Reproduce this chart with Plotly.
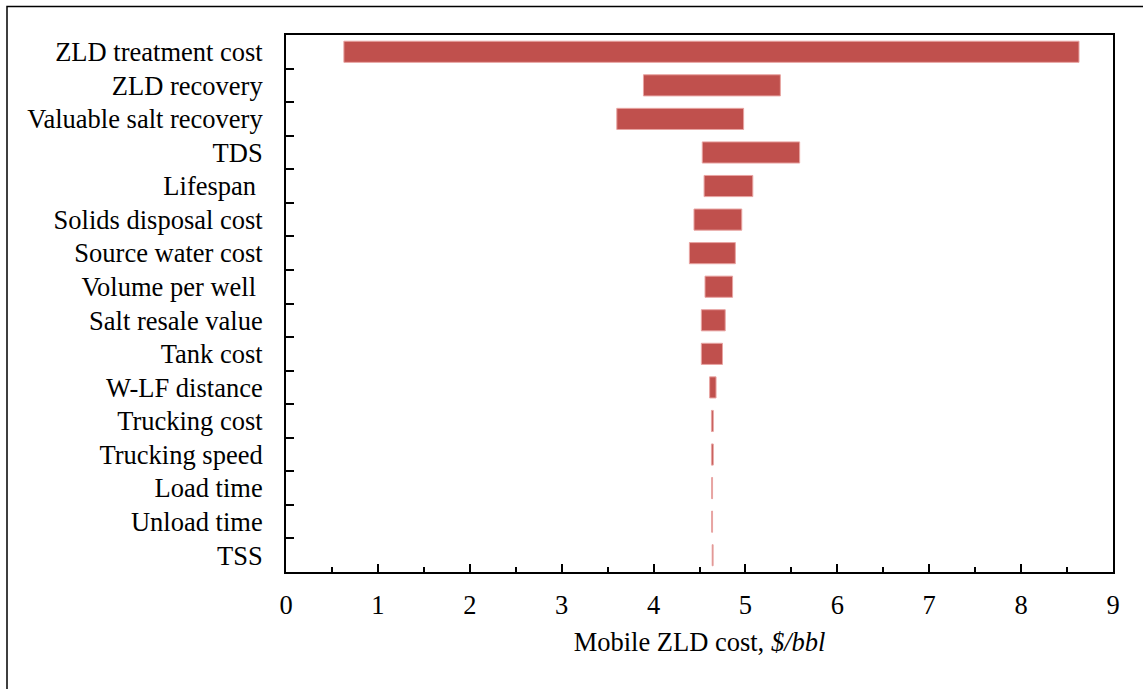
import plotly.graph_objects as go

categories = ["ZLD treatment cost", "ZLD recovery", "Valuable salt recovery", "TDS",
              "Lifespan ", "Solids disposal cost", "Source water cost", "Volume per well ",
              "Salt resale value", "Tank cost", "W-LF distance", "Trucking cost",
              "Trucking speed", "Load time", "Unload time", "TSS"]
low_values = [0.63, 3.89, 3.60, 4.53, 4.55, 4.44, 4.39, 4.56, 4.52, 4.52, 4.61, 4.63,
              4.63, 4.632, 4.632, 4.638]
high_values = [8.63, 5.38, 4.98, 5.59, 5.08, 4.96, 4.89, 4.86, 4.78, 4.75, 4.68, 4.65,
               4.65, 4.642, 4.642, 4.648]
x_ticks = list(range(0, 10))

FONT = "Liberation Serif"
FS = 26.5

fig = go.Figure()
fig.add_trace(go.Bar(
    y=categories,
    x=[h - l for l, h in zip(low_values, high_values)],
    base=low_values,
    orientation="h",
    width=0.63,
    marker=dict(color="#C0504D", line=dict(color="#E8A4A2", width=1)),
    showlegend=False,
))

fig.update_layout(
    width=1143, height=689,
    margin=dict(l=286, r=30, t=35, b=117),
    paper_bgcolor="white", plot_bgcolor="white",
    font=dict(family=FONT, size=FS, color="black"),
)
fig.update_xaxes(
    range=[0, 9], tickvals=x_ticks, ticktext=[str(v) for v in x_ticks],
    showgrid=False, zeroline=False,
    showline=True, linecolor="black", linewidth=2, mirror=True,
    ticks="inside", ticklen=8, tickwidth=2, tickcolor="black",
    minor=dict(dtick=0.5, tick0=0, ticks="inside", ticklen=5, tickwidth=1.5, tickcolor="black"),
    tickfont=dict(family=FONT, size=FS),
    ticklabelstandoff=8,
    title=dict(text="Mobile ZLD cost, <i>$/bbl</i>", font=dict(family=FONT, size=FS), standoff=14),
)
fig.update_yaxes(
    autorange="reversed", showgrid=False, zeroline=False,
    showline=True, linecolor="black", linewidth=2, mirror=True,
    ticks="inside", tickson="boundaries", ticklen=8, tickwidth=2, tickcolor="black",
    tickfont=dict(family=FONT, size=FS),
    ticklabelstandoff=16,
)

# outer frame around the chart
fig.add_shape(type="rect", xref="paper", yref="paper",
              x0=(7 - 286) / 827, x1=(1150 - 286) / 827,
              y0=(572 - 700) / 537, y1=(572 - 6.5) / 537,
              line=dict(color="black", width=1.5), fillcolor="rgba(0,0,0,0)", layer="below")

fig.write_html("out.html", config={"displayModeBar": False},
               post_script="document.body.style.margin='0px';")
